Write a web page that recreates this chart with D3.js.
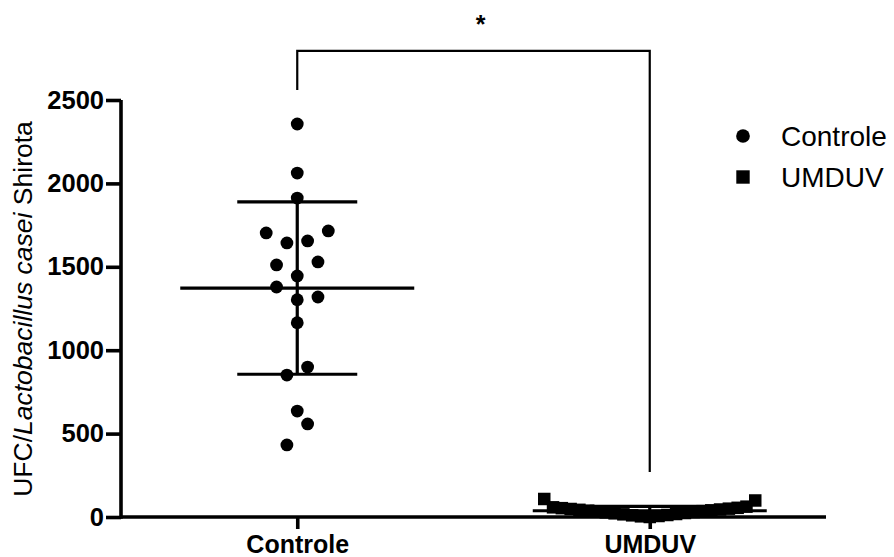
<!DOCTYPE html>
<html>
<head>
<meta charset="utf-8">
<script src="https://cdn.jsdelivr.net/npm/d3@7/dist/d3.min.js"></script>
<style>
  html, body { margin: 0; padding: 0; background: #fff; }
  svg { display: block; font-family: "Liberation Sans", Arial, sans-serif; }
</style>
</head>
<body>
<script>
// ---------------- data ----------------
const categories = ["Controle", "UMDUV"];
const controleValues = [432, 558, 635, 851, 899, 1165, 1303, 1379, 1319, 1445, 1511, 1529,
                        1643, 1655, 1703, 1715, 1912, 2062, 2356];
const umduvValues = [0, 4, 6, 10, 12, 16, 18, 22, 24, 28, 30, 33, 35, 38, 40, 43, 45, 48,
                     50, 53, 55, 58, 62, 108, 99];
const yTicks = [0, 500, 1000, 1500, 2000, 2500];
const legendLabels = ["Controle", "UMDUV"];
const significanceLabel = "*";
const bracketTop = 2795, bracketLeftEnd = 2560, bracketRightEnd = 270;

// ---------------- layout ----------------
const W = 894, H = 557;
const plot = { left: 121, right: 826, top: 100, bottom: 517 };
const svg = d3.select("body").append("svg").attr("width", W).attr("height", H);

const x = d3.scalePoint().domain(categories).range([plot.left, plot.right]).padding(0.5);
const y = d3.scaleLinear().domain([0, 2500]).range([plot.bottom, plot.top]);

const ROW_TOL = 21.7, SLOT = 20.7, MAX_ROW_W = 211;
function swarm(values, cx) {
  const idx = values.map((v, i) => i).sort((a, b) => values[a] - values[b] || a - b);
  const rows = []; let cur = null;
  idx.forEach(i => {
    if (!cur || y(values[cur.start]) - y(values[i]) > ROW_TOL) { cur = { start: i, members: [] }; rows.push(cur); }
    cur.members.push(i);
  });
  const out = [];
  rows.forEach(r => {
    const m = r.members.slice().sort((a, b) => a - b);
    const n = m.length;
    const s = n > 1 ? Math.min(SLOT, MAX_ROW_W / (n - 1)) : 0;
    m.forEach((i, j) => {
      let p;
      if (n % 2) p = j === 0 ? 0 : (j % 2 ? -(j + 1) / 2 : j / 2);
      else p = j % 2 === 0 ? -(j / 2 + 0.5) : (Math.floor(j / 2) + 0.5);
      out.push({ v: values[i], x: cx + p * s, y: y(values[i]) });
    });
  });
  return out;
}

const groups = [
  { name: categories[0], values: controleValues, symbol: d3.symbolCircle, size: Math.PI * 6.4 * 6.4 },
  { name: categories[1], values: umduvValues, symbol: d3.symbolSquare, size: 12.5 * 12.5 }
];

// ---------------- axes ----------------
const yAxis = svg.append("g").attr("transform", `translate(${plot.left},0)`)
  .call(d3.axisLeft(y).tickValues(yTicks).tickSize(15).tickPadding(2).tickSizeOuter(0).tickFormat(d3.format("d")));
const xAxis = svg.append("g").attr("transform", `translate(0,${plot.bottom})`)
  .call(d3.axisBottom(x).tickSize(12).tickPadding(6).tickSizeOuter(0));
[yAxis, xAxis].forEach(g => {
  g.selectAll("path, line").attr("stroke", "#000").attr("stroke-width", 3.6);
  g.selectAll("text").attr("fill", "#000").attr("font-weight", "bold").attr("font-size", 25.5)
    .attr("font-family", "'Liberation Sans', Arial, sans-serif");
});
xAxis.selectAll("text").attr("font-size", 25);
xAxis.select("path.domain").attr("d", `M${plot.left},0H${plot.right}`);
yAxis.select("path.domain").attr("d", `M0,${plot.bottom + 1.8}V${plot.top}`);

// y title
const title = svg.append("text")
  .attr("transform", `translate(32,309) rotate(-90)`)
  .attr("text-anchor", "middle").attr("font-size", 26.5).attr("fill", "#000");
title.append("tspan").text("UFC/");
title.append("tspan").attr("font-style", "italic").text("Lactobacillus casei");
title.append("tspan").text(" Shirota");

// ---------------- error bars (mean ± SD) ----------------
groups.forEach(g => {
  const cx = x(g.name);
  const m = d3.mean(g.values), sd = d3.deviation(g.values);
  const eb = svg.append("g").attr("stroke", "#000").attr("stroke-width", 3.2).attr("fill", "none");
  eb.append("line").attr("x1", cx).attr("x2", cx).attr("y1", y(m - sd)).attr("y2", y(m + sd));
  eb.append("line").attr("x1", cx - 60).attr("x2", cx + 60).attr("y1", y(m + sd)).attr("y2", y(m + sd));
  eb.append("line").attr("x1", cx - 60).attr("x2", cx + 60).attr("y1", y(m - sd)).attr("y2", y(m - sd));
  eb.append("line").attr("x1", cx - 117).attr("x2", cx + 117).attr("y1", y(m)).attr("y2", y(m));
});

// ---------------- points ----------------
groups.forEach(g => {
  const pts = swarm(g.values, x(g.name));
  svg.append("g").selectAll("path").data(pts).join("path")
    .attr("d", d3.symbol().type(g.symbol).size(g.size))
    .attr("transform", d => `translate(${d.x},${d.y})`)
    .attr("fill", "#000");
});

// ---------------- significance bracket ----------------
const bx0 = x(categories[0]), bx1 = x(categories[1]);
svg.append("path")
  .attr("d", `M${bx0},${y(bracketLeftEnd)}V${y(bracketTop)}H${bx1}V${y(bracketRightEnd)}`)
  .attr("fill", "none").attr("stroke", "#000").attr("stroke-width", 2.2);
svg.append("text").attr("x", (bx0 + bx1) / 2 + 7).attr("y", 33)
  .attr("text-anchor", "middle").attr("font-size", 25).attr("font-weight", "bold").text(significanceLabel);

// ---------------- legend ----------------
const legend = svg.append("g");
groups.forEach((g, i) => {
  const ly = 136 + i * 41;
  legend.append("path").attr("d", d3.symbol().type(g.symbol).size(g.size * 1.15)())
    .attr("transform", `translate(743,${ly})`).attr("fill", "#000");
  legend.append("text").attr("x", 781).attr("y", ly + 9.5)
    .attr("font-size", 28).attr("fill", "#000").text(legendLabels[i]);
});
</script>
</body>
</html>
